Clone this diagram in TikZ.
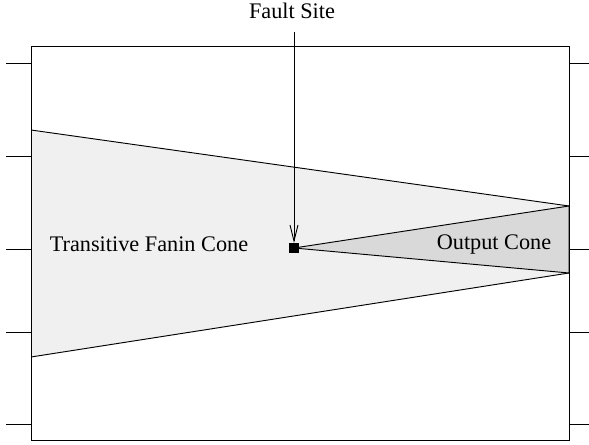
\documentclass[tikz,border=0pt]{standalone}
\usepackage{fontspec}
\setmainfont{Liberation Serif}
\usetikzlibrary{arrows.meta}
\tikzset{
  px/.style={x=0.75pt,y=-0.75pt},
  edge/.style={line width=0.7pt,black},
  lbl/.style={font=\fontsize{16.7}{20}\selectfont,anchor=base,inner sep=0pt},
}
\begin{document}
\begin{tikzpicture}[px]
\useasboundingbox (0,0) rectangle (589,445);
% box
\coordinate (bl) at (31,440);
\coordinate (tr) at (569,46);
% fanin cone
\coordinate (ft) at (31,130);
\coordinate (fb) at (31,357);
\coordinate (ot) at (569,206);
\coordinate (ob) at (569,273);
\coordinate (apex) at (294,248);
\fill[black!6] (ft) -- (ot) -- (ob) -- (fb) -- cycle;
\draw[edge] (ft) -- (ot) (fb) -- (ob);
\filldraw[edge,fill=black!15] (apex) -- (ot) -- (ob) -- cycle;
\draw[edge] (bl) rectangle (tr);
% pins
\foreach \y in {63,156,249,332,424}{
  \draw[edge] (6,\y) -- (31,\y);
  \draw[edge] (569,\y) -- (589,\y);
}
% fault site
\node[fill=black,minimum size=9.5*0.75pt,inner sep=0pt] (fault) at (apex) {};
\node[lbl] (ftext) at (292,19) {Fault Site};
\coordinate (astart) at (294,32);
\draw[edge,-{Straight Barb[length=12pt,width=6pt]}] (astart) -- (fault.north);
\node[lbl] (fanin) at (149,252) {Transitive Fanin Cone};
\node[lbl] (out) at (494,250) {Output Cone};
\end{tikzpicture}
\end{document}
